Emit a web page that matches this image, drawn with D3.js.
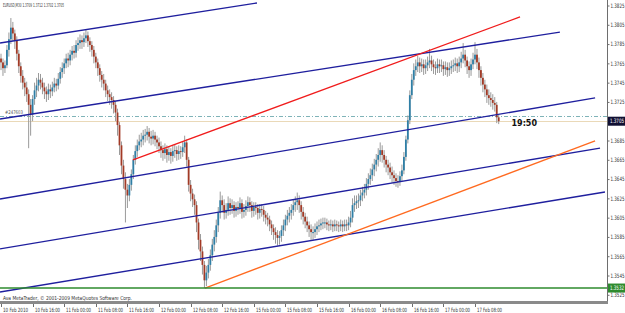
<!DOCTYPE html>
<html>
<head>
<meta charset="utf-8">
<script src="https://cdn.jsdelivr.net/npm/d3@7"></script>
<style>
  body { margin: 0; background: #fff; }
  svg { display: block; }
  text { font-family: "DejaVu Sans", sans-serif; }
</style>
</head>
<body>
<div id="chart"></div>
<script>
// EURUSD M30, one entry per bar, open = previous close
const firstOpen = 1.3770
const closes = [
  1.3766, 1.3760, 1.3763, 1.3779, 1.3790, 1.3802, 1.3796, 1.3789, 1.3775, 1.3762,
  1.3752, 1.3745, 1.3740, 1.3733, 1.3722, 1.3712, 1.3728, 1.3737, 1.3742, 1.3748,
  1.3745, 1.3740, 1.3736, 1.3733, 1.3738, 1.3736, 1.3740, 1.3744, 1.3742, 1.3749,
  1.3756, 1.3760, 1.3765, 1.3770, 1.3768, 1.3774, 1.3778, 1.3776, 1.3784, 1.3786,
  1.3789, 1.3787, 1.3791, 1.3794, 1.3788, 1.3784, 1.3779, 1.3772, 1.3766, 1.3760,
  1.3753, 1.3748, 1.3744, 1.3737, 1.3733, 1.3730, 1.3727, 1.3722, 1.3714, 1.3701,
  1.3680, 1.3659, 1.3645, 1.3634, 1.3628, 1.3639, 1.3650, 1.3665, 1.3674, 1.3680,
  1.3684, 1.3686, 1.3690, 1.3691, 1.3694, 1.3689, 1.3687, 1.3690, 1.3686, 1.3683,
  1.3679, 1.3675, 1.3672, 1.3676, 1.3670, 1.3673, 1.3669, 1.3674, 1.3675, 1.3671,
  1.3674, 1.3673, 1.3678, 1.3683, 1.3665, 1.3639, 1.3630, 1.3624, 1.3618, 1.3600,
  1.3582, 1.3570, 1.3556, 1.3540, 1.3548, 1.3556, 1.3566, 1.3577, 1.3585, 1.3597,
  1.3610, 1.3623, 1.3618, 1.3610, 1.3613, 1.3620, 1.3615, 1.3618, 1.3612, 1.3616,
  1.3615, 1.3620, 1.3611, 1.3613, 1.3617, 1.3621, 1.3618, 1.3612, 1.3616, 1.3615,
  1.3610, 1.3614, 1.3613, 1.3608, 1.3605, 1.3603, 1.3598, 1.3594, 1.3590, 1.3587,
  1.3584, 1.3586, 1.3592, 1.3597, 1.3603, 1.3607, 1.3610, 1.3613, 1.3618, 1.3621,
  1.3623, 1.3618, 1.3611, 1.3606, 1.3601, 1.3597, 1.3593, 1.3590, 1.3590, 1.3593,
  1.3596, 1.3597, 1.3599, 1.3600, 1.3600, 1.3598, 1.3597, 1.3598, 1.3596, 1.3598,
  1.3597, 1.3596, 1.3598, 1.3596, 1.3598, 1.3597, 1.3600, 1.3605, 1.3618, 1.3620,
  1.3622, 1.3623, 1.3628, 1.3631, 1.3634, 1.3640, 1.3645, 1.3649, 1.3655, 1.3660,
  1.3665, 1.3670, 1.3675, 1.3670, 1.3665, 1.3660, 1.3657, 1.3652, 1.3649, 1.3646,
  1.3643, 1.3642, 1.3648, 1.3654, 1.3668, 1.3686, 1.3706, 1.3732, 1.3748, 1.3758,
  1.3762, 1.3766, 1.3762, 1.3764, 1.3760, 1.3763, 1.3766, 1.3768, 1.3764, 1.3761,
  1.3760, 1.3764, 1.3762, 1.3763, 1.3759, 1.3761, 1.3758, 1.3760, 1.3762, 1.3763,
  1.3765, 1.3762, 1.3766, 1.3770, 1.3774, 1.3768, 1.3762, 1.3758, 1.3764, 1.3769,
  1.3774, 1.3766, 1.3758, 1.3750, 1.3743, 1.3738, 1.3732, 1.3729, 1.3727, 1.3724,
  1.3722, 1.3709, 1.3705
]
const highs = [
  1.3775, 1.3770, 1.3768, 1.3784, 1.3797, 1.3812, 1.3808, 1.3800, 1.3793, 1.3779,
  1.3766, 1.3758, 1.3750, 1.3746, 1.3738, 1.3728, 1.3732, 1.3745, 1.3750, 1.3755,
  1.3754, 1.3750, 1.3745, 1.3741, 1.3744, 1.3743, 1.3746, 1.3750, 1.3749, 1.3755,
  1.3761, 1.3766, 1.3770, 1.3775, 1.3776, 1.3779, 1.3783, 1.3784, 1.3789, 1.3792,
  1.3795, 1.3794, 1.3797, 1.3800, 1.3798, 1.3792, 1.3788, 1.3783, 1.3776, 1.3770,
  1.3764, 1.3757, 1.3754, 1.3748, 1.3742, 1.3738, 1.3735, 1.3731, 1.3726, 1.3718,
  1.3704, 1.3684, 1.3665, 1.3652, 1.3640, 1.3645, 1.3655, 1.3670, 1.3680, 1.3686,
  1.3691, 1.3693, 1.3696, 1.3697, 1.3700, 1.3698, 1.3695, 1.3696, 1.3694, 1.3690,
  1.3688, 1.3684, 1.3680, 1.3682, 1.3680, 1.3679, 1.3677, 1.3680, 1.3681, 1.3679,
  1.3680, 1.3679, 1.3684, 1.3690, 1.3686, 1.3668, 1.3644, 1.3635, 1.3629, 1.3622,
  1.3604, 1.3588, 1.3575, 1.3560, 1.3555, 1.3562, 1.3572, 1.3583, 1.3592, 1.3603,
  1.3616, 1.3632, 1.3628, 1.3624, 1.3620, 1.3627, 1.3625, 1.3624, 1.3622, 1.3621,
  1.3622, 1.3626, 1.3624, 1.3619, 1.3623, 1.3627, 1.3626, 1.3622, 1.3621, 1.3621,
  1.3619, 1.3619, 1.3619, 1.3617, 1.3612, 1.3610, 1.3607, 1.3602, 1.3598, 1.3595,
  1.3592, 1.3591, 1.3597, 1.3603, 1.3608, 1.3613, 1.3616, 1.3619, 1.3624, 1.3627,
  1.3631, 1.3628, 1.3622, 1.3616, 1.3610, 1.3606, 1.3601, 1.3598, 1.3596, 1.3599,
  1.3601, 1.3603, 1.3604, 1.3605, 1.3605, 1.3604, 1.3602, 1.3603, 1.3602, 1.3603,
  1.3602, 1.3601, 1.3603, 1.3602, 1.3603, 1.3603, 1.3606, 1.3612, 1.3625, 1.3628,
  1.3628, 1.3630, 1.3634, 1.3637, 1.3640, 1.3646, 1.3651, 1.3656, 1.3661, 1.3666,
  1.3671, 1.3677, 1.3683, 1.3680, 1.3675, 1.3669, 1.3665, 1.3662, 1.3658, 1.3654,
  1.3651, 1.3649, 1.3653, 1.3660, 1.3673, 1.3690, 1.3711, 1.3737, 1.3754, 1.3765,
  1.3769, 1.3773, 1.3771, 1.3770, 1.3769, 1.3769, 1.3772, 1.3780, 1.3773, 1.3769,
  1.3767, 1.3770, 1.3769, 1.3769, 1.3767, 1.3767, 1.3766, 1.3766, 1.3768, 1.3769,
  1.3771, 1.3770, 1.3772, 1.3777, 1.3786, 1.3779, 1.3772, 1.3767, 1.3770, 1.3776,
  1.3787, 1.3780, 1.3771, 1.3762, 1.3755, 1.3748, 1.3743, 1.3738, 1.3735, 1.3733,
  1.3730, 1.3725, 1.3712
]
const lows = [
  1.3758, 1.3752, 1.3755, 1.3760, 1.3772, 1.3785, 1.3788, 1.3780, 1.3768, 1.3755,
  1.3745, 1.3738, 1.3731, 1.3725, 1.3677, 1.3690, 1.3705, 1.3722, 1.3730, 1.3736,
  1.3738, 1.3733, 1.3728, 1.3725, 1.3727, 1.3729, 1.3731, 1.3735, 1.3736, 1.3738,
  1.3744, 1.3750, 1.3754, 1.3760, 1.3761, 1.3763, 1.3768, 1.3770, 1.3771, 1.3778,
  1.3780, 1.3780, 1.3782, 1.3786, 1.3782, 1.3777, 1.3772, 1.3765, 1.3760, 1.3752,
  1.3746, 1.3740, 1.3737, 1.3730, 1.3726, 1.3722, 1.3718, 1.3713, 1.3705, 1.3690,
  1.3670, 1.3650, 1.3635, 1.3600, 1.3615, 1.3622, 1.3633, 1.3645, 1.3660, 1.3668,
  1.3675, 1.3678, 1.3680, 1.3683, 1.3685, 1.3682, 1.3680, 1.3681, 1.3679, 1.3676,
  1.3672, 1.3667, 1.3664, 1.3666, 1.3662, 1.3664, 1.3661, 1.3663, 1.3667, 1.3664,
  1.3665, 1.3666, 1.3668, 1.3672, 1.3658, 1.3632, 1.3622, 1.3616, 1.3608, 1.3590,
  1.3572, 1.3560, 1.3546, 1.3532, 1.3534, 1.3542, 1.3550, 1.3560, 1.3570, 1.3579,
  1.3590, 1.3604, 1.3610, 1.3603, 1.3604, 1.3607, 1.3608, 1.3609, 1.3605, 1.3606,
  1.3608, 1.3609, 1.3604, 1.3605, 1.3607, 1.3611, 1.3611, 1.3605, 1.3606, 1.3608,
  1.3603, 1.3604, 1.3606, 1.3601, 1.3598, 1.3596, 1.3591, 1.3587, 1.3582, 1.3578,
  1.3576, 1.3577, 1.3580, 1.3586, 1.3591, 1.3597, 1.3600, 1.3603, 1.3607, 1.3611,
  1.3613, 1.3610, 1.3603, 1.3598, 1.3594, 1.3590, 1.3585, 1.3582, 1.3582, 1.3584,
  1.3587, 1.3590, 1.3592, 1.3593, 1.3594, 1.3592, 1.3591, 1.3592, 1.3590, 1.3591,
  1.3591, 1.3590, 1.3591, 1.3590, 1.3591, 1.3591, 1.3592, 1.3595, 1.3600, 1.3611,
  1.3614, 1.3615, 1.3617, 1.3622, 1.3625, 1.3628, 1.3634, 1.3639, 1.3643, 1.3648,
  1.3653, 1.3658, 1.3663, 1.3662, 1.3657, 1.3652, 1.3649, 1.3645, 1.3641, 1.3639,
  1.3637, 1.3636, 1.3638, 1.3643, 1.3650, 1.3664, 1.3682, 1.3702, 1.3728, 1.3742,
  1.3752, 1.3756, 1.3755, 1.3756, 1.3753, 1.3754, 1.3757, 1.3760, 1.3757, 1.3754,
  1.3753, 1.3755, 1.3755, 1.3756, 1.3752, 1.3753, 1.3751, 1.3752, 1.3754, 1.3756,
  1.3757, 1.3755, 1.3756, 1.3760, 1.3765, 1.3761, 1.3754, 1.3750, 1.3752, 1.3759,
  1.3764, 1.3759, 1.3750, 1.3742, 1.3735, 1.3730, 1.3724, 1.3722, 1.3720, 1.3717,
  1.3715, 1.3703, 1.3702
]

// price axis
const priceTicks = [1.3825, 1.3805, 1.3785, 1.3765, 1.3745, 1.3725, 1.3685, 1.3665,
  1.3645, 1.3625, 1.3605, 1.3585, 1.3565, 1.3545, 1.3525]
const bidPrice = 1.3705
const levelPrice = 1.3532
const dashLevel = 1.3710

// time axis: bar index and label
const timeTickBars = [0, 16, 32, 48, 64, 80, 96, 112, 128, 144, 160, 176, 192, 208, 224, 240]
const timeLabels = ['10 Feb 2010', '10 Feb 16:00', '11 Feb 00:00', '11 Feb 08:00', '11 Feb 16:00',
  '12 Feb 00:00', '12 Feb 08:00', '12 Feb 16:00', '15 Feb 00:00', '15 Feb 08:00', '15 Feb 16:00',
  '16 Feb 00:00', '16 Feb 08:00', '16 Feb 16:00', '17 Feb 00:00', '17 Feb 08:00']

// trend lines: [bar1, price1, bar2, price2]
const blueLines = [
  [-0.5, 1.37861, 129.6, 1.38276],
  [-0.5, 1.37073, 283.0, 1.37975],
  [-0.5, 1.36243, 300.8, 1.37291],
  [-0.5, 1.35725, 303.3, 1.36772],
  [-0.5, 1.35279, 305.8, 1.36316]
]
const redLine = [66.8, 1.36648, 262.8, 1.38131]
const orangeLine = [103.3, 1.35320, 300.8, 1.36845]

const headerText = 'EURUSD,M30  1.3709 1.3712 1.3702 1.3705'
const timerText = '19:50'
const objectText = '#247603'
const footerText = 'Ava MetaTrader, © 2001-2009 MetaQuotes Software Corp.'

const width = 625, height = 313
const plotRight = 607, plotBottom = 301

let bars = closes.map(function(c, i) {
  return { i: i, o: i === 0 ? firstOpen : closes[i - 1], h: highs[i], l: lows[i], c: c }
})

let x = d3.scaleLinear().domain([0, 300]).range([1, 1 + 300 * 1.975])
let y = d3.scaleLinear().domain([1.3825, 1.3545]).range([5.5, 275.5])

let svg = d3.select('#chart')
  .append('svg')
  .attr('width', width)
  .attr('height', height)

svg.append('rect').attr('width', width).attr('height', height).attr('fill', '#fff')

svg.append('clipPath').attr('id', 'plot')
  .append('rect').attr('x', 0).attr('y', 0).attr('width', plotRight).attr('height', plotBottom)

let plot = svg.append('g').attr('clip-path', 'url(#plot)')

// horizontal helper lines
plot.append('line')
  .attr('x1', 0).attr('x2', plotRight)
  .attr('y1', Math.round(y(dashLevel)) + 0.5).attr('y2', Math.round(y(dashLevel)) + 0.5)
  .attr('stroke', '#7fb3b8').attr('stroke-dasharray', '4,2,1,2')
plot.append('line')
  .attr('x1', 0).attr('x2', plotRight)
  .attr('y1', Math.round(y(bidPrice)) + 0.5).attr('y2', Math.round(y(bidPrice)) + 0.5)
  .attr('stroke', '#ead9b8')

// candles
let candle = plot.append('g').attr('class', 'candles')
  .selectAll('g')
  .data(bars)
  .enter()
  .append('g')

candle.append('line')
  .attr('x1', function(d) { return x(d.i) }).attr('x2', function(d) { return x(d.i) })
  .attr('y1', function(d) { return y(d.h) }).attr('y2', function(d) { return y(d.l) })
  .attr('stroke', '#9a9a9a').attr('stroke-width', 1)

candle.append('rect')
  .attr('x', function(d) { return x(d.i) - 0.9 })
  .attr('width', 1.8)
  .attr('y', function(d) { return y(Math.max(d.o, d.c)) })
  .attr('height', function(d) { return Math.max(1, Math.abs(y(d.o) - y(d.c))) })
  .attr('fill', function(d) { return d.c >= d.o ? '#2f7fa6' : '#a23a26' })

// trend lines
function drawTrend(l, color, w) {
  plot.append('line')
    .attr('x1', x(l[0])).attr('y1', y(l[1]))
    .attr('x2', x(l[2])).attr('y2', y(l[3]))
    .attr('stroke', color).attr('stroke-width', w)
}
blueLines.forEach(function(l) { drawTrend(l, '#1f1f9e', 1.3) })
drawTrend(redLine, '#f01c1c', 1.3)
drawTrend(orangeLine, '#ff6a20', 1.3)

plot.append('line')
  .attr('x1', 0).attr('x2', plotRight)
  .attr('y1', y(levelPrice)).attr('y2', y(levelPrice))
  .attr('stroke', '#2e8b2e').attr('stroke-width', 1.6)

// frame
svg.append('line').attr('x1', plotRight + 0.5).attr('x2', plotRight + 0.5)
  .attr('y1', 0).attr('y2', plotBottom + 3).attr('stroke', '#6e6e6e')
svg.append('rect').attr('x', 0).attr('y', plotBottom).attr('width', plotRight + 1).attr('height', 3)
  .attr('fill', '#8a8a8a')

// price axis
let yAxis = d3.axisRight(y).tickValues(priceTicks).tickSize(2).tickFormat(d3.format('.4f'))
let ya = svg.append('g').attr('transform', 'translate(' + (plotRight + 0.5) + ',0)').call(yAxis)
ya.select('.domain').remove()
ya.selectAll('line').attr('stroke', '#6e6e6e')
ya.selectAll('text').attr('x', 3).attr('font-size', 6).attr('fill', '#333')
  .attr('font-family', '"DejaVu Sans", sans-serif')
  .attr('textLength', 14).attr('lengthAdjust', 'spacingAndGlyphs')

function priceTag(p, bg) {
  let g = svg.append('g').attr('transform', 'translate(' + (plotRight + 1) + ',' + y(p) + ')')
  g.append('rect').attr('x', 0).attr('y', -4.5).attr('width', 18).attr('height', 9).attr('fill', bg)
  g.append('text').attr('x', 2).attr('dy', '0.35em').attr('font-size', 6).attr('fill', '#fff')
    .attr('textLength', 14).attr('lengthAdjust', 'spacingAndGlyphs')
    .text(d3.format('.4f')(p))
}
priceTag(bidPrice, '#101033')
priceTag(levelPrice, '#2e8b2e')

// time axis
let tx = svg.append('g').selectAll('g').data(timeTickBars).enter().append('g')
  .attr('transform', function(d) { return 'translate(' + Math.round(x(d)) + ',' + (plotBottom + 3) + ')' })
tx.append('line').attr('x1', 0.5).attr('x2', 0.5).attr('y1', 0).attr('y2', 3).attr('stroke', '#6e6e6e')
tx.append('text').attr('x', 2).attr('y', 7.5).attr('font-size', 5.8).attr('fill', '#333')
  .attr('textLength', 25).attr('lengthAdjust', 'spacingAndGlyphs')
  .text(function(d, i) { return timeLabels[i] })

// texts
svg.append('text').attr('x', 3).attr('y', 7).attr('font-size', 5.5).attr('fill', '#333')
  .attr('textLength', 61).attr('lengthAdjust', 'spacingAndGlyphs').text(headerText)
svg.append('text').attr('x', 5).attr('y', y(dashLevel) - 2).attr('font-size', 5).attr('fill', '#555')
  .attr('textLength', 18).attr('lengthAdjust', 'spacingAndGlyphs').text(objectText)
svg.append('text').attr('x', x(258.5)).attr('y', y(bidPrice) + 5).attr('font-size', 8)
  .attr('font-weight', 'bold').attr('fill', '#111').text(timerText)
svg.append('text').attr('x', 3).attr('y', plotBottom - 1.5).attr('font-size', 5.5).attr('fill', '#333')
  .attr('textLength', 129).attr('lengthAdjust', 'spacingAndGlyphs').text(footerText)
</script>
</body>
</html>
